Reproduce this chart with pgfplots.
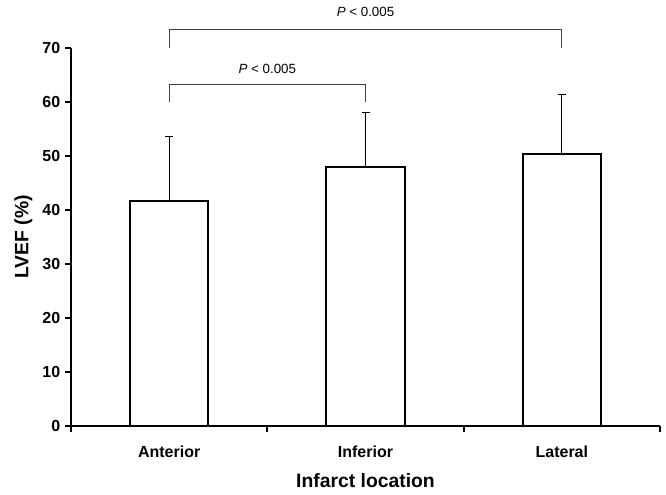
\documentclass[border=0pt]{standalone}
\usepackage{fontspec}
\setmainfont{Liberation Sans}
\usepackage{pgfplots}
\pgfplotsset{compat=1.18}
\usetikzlibrary{calc}

\begin{document}
\begin{tikzpicture}
\begin{axis}[
    name=ax,
    width=441.75pt, height=283.5pt,
    scale only axis,
    axis lines*=left,
    axis line style={line width=1.5pt},
    clip=false,
    xmin=-0.5, xmax=2.5,
    ymin=0, ymax=70,
    ytick={0,10,...,70},
    xtick={0,1,2},
    xticklabels={Anterior, Inferior, Lateral},
    minor xtick={-0.5,0.5,1.5,2.5},
    tick align=outside,
    major x tick style={draw=none},
    minor tick length=4.5pt,
    major tick length=4.5pt,
    tick style={line width=1.5pt, black},
    /pgf/number format/assume math mode=true,
    ticklabel style={font=\fontsize{12}{14}\selectfont\bfseries},
    xticklabel style={yshift=-7pt},
    yticklabel style={xshift=0pt},
    ylabel={LVEF (\%)},
    xlabel={Infarct location},
    label style={font=\fontsize{14.5}{17}\selectfont\bfseries},
    ylabel style={at={(axis description cs:-0.081,0.5)}, anchor=center, rotate=0},
    xlabel style={at={(axis description cs:0.5,-0.145)}, anchor=center},
]
% bars with upward SD
\addplot[ybar, bar width=0.4, fill=white, draw=black, line width=1.5pt,
    error bars/.cd, y dir=plus, y explicit,
    error bar style={line width=0.75pt, black},
    error mark options={rotate=90, mark size=3pt, line width=0.75pt}]
coordinates {
    (0,41.7) +- (0,12.0)
    (1,48.0) +- (0,10.0)
    (2,50.4) +- (0,10.9)
};
% significance brackets
\addplot[black!75, line width=0.6pt, mark=none] coordinates {(0,70) (0,73.5) (2,73.5) (2,70)};
\addplot[black!75, line width=0.6pt, mark=none] coordinates {(0,60) (0,63.3) (1,63.3) (1,60)};
\node[font=\fontsize{10}{12}\selectfont] at (axis cs:1,76.6) {\textit{P} < 0.005};
\node[font=\fontsize{10}{12}\selectfont] at (axis cs:0.5,66.2) {\textit{P} < 0.005};
\end{axis}
\pgfresetboundingbox
\path[use as bounding box] ($(ax.south west)+(-53.25pt,-51.75pt)$) rectangle ($(ax.north east)+(4.5pt,36pt)$);
\end{tikzpicture}
\end{document}
